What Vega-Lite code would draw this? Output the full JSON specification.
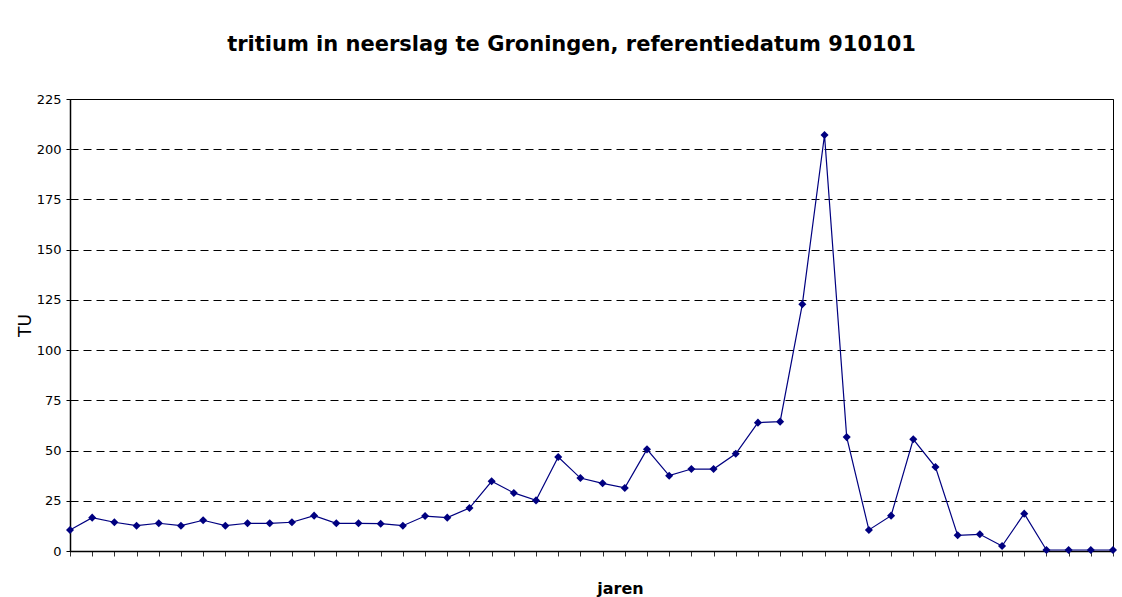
{
  "$schema": "https://vega.github.io/schema/vega-lite/v6.json",
  "autosize": "none",
  "width": 1043,
  "height": 452,
  "padding": {"left": 70, "top": 99, "right": 9, "bottom": 46},
  "background": "white",
  "title": {
    "text": "tritium in neerslag te Groningen, referentiedatum 910101",
    "font": "DejaVu Sans",
    "fontSize": 21,
    "fontWeight": "bold",
    "color": "black",
    "anchor": "middle",
    "frame": "group",
    "dx": -20,
    "baseline": "alphabetic",
    "offset": 21
  },
  "config": {
    "view": {"stroke": "black", "strokeWidth": 1},
    "font": "DejaVu Sans"
  },
  "data": {
    "values": [
      {"n": 1, "TU": 10.5}, {"n": 2, "TU": 16.6}, {"n": 3, "TU": 14.3}, {"n": 4, "TU": 12.6},
      {"n": 5, "TU": 13.8}, {"n": 6, "TU": 12.6}, {"n": 7, "TU": 15.3}, {"n": 8, "TU": 12.6},
      {"n": 9, "TU": 13.8}, {"n": 10, "TU": 13.8}, {"n": 11, "TU": 14.3}, {"n": 12, "TU": 17.6},
      {"n": 13, "TU": 13.8}, {"n": 14, "TU": 13.8}, {"n": 15, "TU": 13.6}, {"n": 16, "TU": 12.6},
      {"n": 17, "TU": 17.4}, {"n": 18, "TU": 16.6}, {"n": 19, "TU": 21.4}, {"n": 20, "TU": 34.7},
      {"n": 21, "TU": 28.9}, {"n": 22, "TU": 25.2}, {"n": 23, "TU": 46.8}, {"n": 24, "TU": 36.3},
      {"n": 25, "TU": 33.7}, {"n": 26, "TU": 31.4}, {"n": 27, "TU": 50.6}, {"n": 28, "TU": 37.5},
      {"n": 29, "TU": 40.8}, {"n": 30, "TU": 40.8}, {"n": 31, "TU": 48.4}, {"n": 32, "TU": 63.9},
      {"n": 33, "TU": 64.4}, {"n": 34, "TU": 122.8}, {"n": 35, "TU": 207.1}, {"n": 36, "TU": 56.7},
      {"n": 37, "TU": 10.5}, {"n": 38, "TU": 17.6}, {"n": 39, "TU": 55.6}, {"n": 40, "TU": 41.8},
      {"n": 41, "TU": 7.8}, {"n": 42, "TU": 8.3}, {"n": 43, "TU": 2.5}, {"n": 44, "TU": 18.6},
      {"n": 45, "TU": 0.5}, {"n": 46, "TU": 0.5}, {"n": 47, "TU": 0.5}, {"n": 48, "TU": 0.5}
    ]
  },
  "mark": {
    "type": "line",
    "color": "#000080",
    "strokeWidth": 1.2,
    "clip": false,
    "point": {"shape": "diamond", "size": 65, "filled": true, "color": "#000080", "opacity": 1}
  },
  "encoding": {
    "x": {
      "field": "n",
      "type": "ordinal",
      "scale": {"padding": 0},
      "axis": {
        "title": "jaren",
        "titleFont": "DejaVu Sans",
        "titleFontSize": 16,
        "titleFontWeight": "bold",
        "titleColor": "black",
        "titleX": 550,
        "titleY": 37,
        "titleBaseline": "middle",
        "titleAlign": "center",
        "labels": false,
        "ticks": true,
        "tickSize": 5,
        "tickColor": "#333333",
        "domainColor": "black",
        "domainWidth": 1.5,
        "grid": false
      }
    },
    "y": {
      "field": "TU",
      "type": "quantitative",
      "scale": {"domain": [0, 225], "nice": false},
      "axis": {
        "title": "TU",
        "titleFont": "DejaVu Sans",
        "titleFontSize": 17,
        "titleFontWeight": "normal",
        "titleColor": "black",
        "titleAngle": -90,
        "titleX": -45,
        "titleY": 226,
        "titleAlign": "center",
        "titleBaseline": "middle",
        "values": [0, 25, 50, 75, 100, 125, 150, 175, 200, 225],
        "labelFont": "DejaVu Sans",
        "labelFontSize": 13,
        "labelColor": "black",
        "labelPadding": 5,
        "tickSize": 4,
        "tickColor": "black",
        "domainColor": "black",
        "domainWidth": 1.5,
        "grid": true,
        "gridColor": "black",
        "gridDash": [8, 5],
        "gridWidth": 1
      }
    }
  }
}
